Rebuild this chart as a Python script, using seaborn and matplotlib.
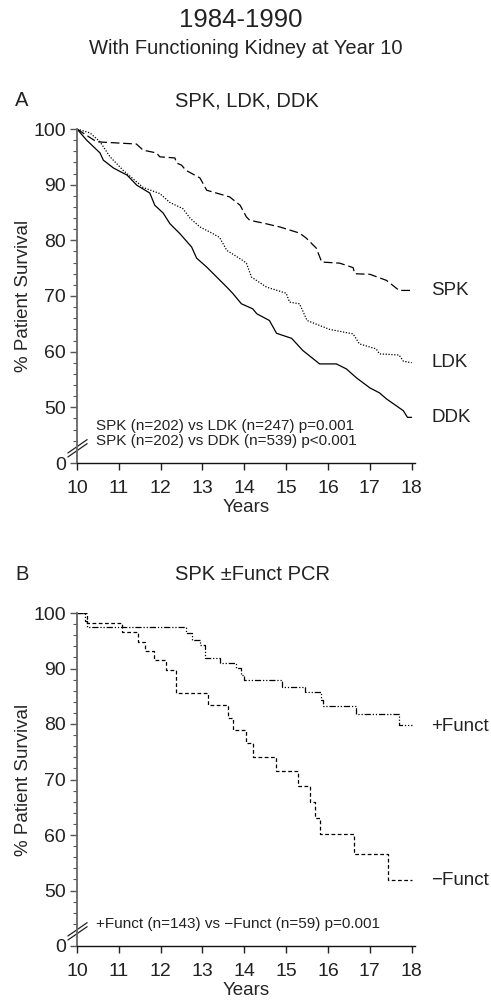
import matplotlib
matplotlib.use("Agg")
import matplotlib.pyplot as plt
import seaborn as sns
import pandas as pd

# panel A: patient survival, functioning kidney at year 10
spk_years = [10.0, 10.2, 10.47, 11.42, 11.58, 11.9, 11.98, 12.34, 12.38, 12.5, 12.6, 12.94, 13.1, 13.65, 13.9,
             14.05, 14.13, 14.45, 14.85, 15.32, 15.48, 15.72, 15.85, 16.28, 16.6, 16.64, 17.0, 17.4, 17.7, 18.0]
spk_surv = [100, 99.0, 97.7, 97.3, 96.2, 95.7, 95.0, 94.8, 93.9, 93.5, 92.6, 91.2, 89.0, 87.8, 86.3,
            84.2, 83.6, 83.1, 82.4, 81.3, 80.4, 78.6, 76.1, 75.9, 75.1, 74.0, 73.9, 72.8, 71.0, 71.0]

ldk_years = [10.0, 10.31, 10.55, 10.79, 11.1, 11.58, 11.98, 12.22, 12.53, 12.7, 12.94, 13.25, 13.41, 13.58, 13.96,
             14.05, 14.17, 14.37, 14.53, 15.0, 15.08, 15.32, 15.5, 15.8, 16.04, 16.6, 16.75, 17.15, 17.23, 17.7,
             17.8, 18.0]
ldk_surv = [100, 99.3, 97.7, 95.0, 92.6, 89.5, 88.4, 86.8, 85.7, 84.0, 82.4, 81.2, 80.5, 78.2, 76.4,
            75.9, 73.4, 72.4, 71.6, 70.5, 68.9, 68.6, 65.6, 64.7, 64.0, 63.2, 61.4, 60.5, 59.6, 59.4,
            58.3, 58.0]

ddk_years = [10.0, 10.23, 10.55, 10.63, 10.87, 11.2, 11.43, 11.74, 11.86, 12.06, 12.22, 12.46, 12.74, 12.86, 13.1,
             13.34, 13.58, 13.72, 13.93, 14.2, 14.3, 14.6, 14.77, 15.13, 15.4, 15.8, 16.2, 16.44, 16.68, 17.0,
             17.23, 17.4, 17.8, 17.9, 18.0]
ddk_surv = [100, 98.0, 95.7, 94.4, 93.0, 91.7, 89.9, 88.5, 86.3, 84.9, 83.0, 81.2, 78.8, 76.8, 75.2,
            73.4, 71.6, 70.5, 68.6, 67.7, 66.8, 65.6, 63.3, 62.4, 60.2, 57.8, 57.8, 56.9, 55.3, 53.5,
            52.6, 51.5, 49.4, 48.2, 48.2]

# panel B: SPK with / without functioning pancreas
plus_years = [10.0, 10.19, 10.24, 12.6, 12.74, 12.94, 13.06, 13.41, 13.8, 13.93, 14.0, 14.89, 15.44, 15.84, 15.87,
              16.68, 17.7, 18.0]
plus_surv = [100, 98.6, 97.5, 96.4, 95.2, 94.2, 91.9, 91.0, 90.1, 88.8, 88.0, 86.7, 85.7, 84.3, 83.3,
             81.8, 79.8, 79.8]

minus_years = [10.0, 10.24, 11.07, 11.45, 11.62, 11.84, 12.12, 12.36, 13.12, 13.62, 13.72, 14.05, 14.2, 14.76,
               15.28, 15.56, 15.7, 15.82, 16.62, 17.44, 18.0]
minus_surv = [100, 98.2, 96.5, 94.8, 93.2, 91.6, 89.7, 85.6, 83.4, 81.1, 78.9, 76.6, 74.0, 71.5,
              68.8, 66.0, 63.1, 60.2, 56.6, 51.9, 51.9]

x_ticks = [10, 11, 12, 13, 14, 15, 16, 17, 18]
y_ticks = [40, 50, 60, 70, 80, 90, 100]
y_ticklabels = ['0', '50', '60', '70', '80', '90', '100']

sns.set_theme(style='ticks')
plt.rcParams['font.family'] = ['Liberation Sans', 'DejaVu Sans']
plt.rcParams['text.color'] = '#222222'

fig = plt.figure(figsize=(4.91, 10), dpi=100)
ax_a = fig.add_axes([77 / 491, 1 - 463 / 1000, 338 / 491, 334 / 1000])
ax_b = fig.add_axes([77 / 491, 1 - 946 / 1000, 338 / 491, 333 / 1000])


def draw_curve(ax, years, surv, ls, steps=False):
    df = pd.DataFrame({'Years': years, 'surv': surv})
    kw = {'drawstyle': 'steps-post'} if steps else {}
    sns.lineplot(data=df, x='Years', y='surv', ax=ax, color='black', linewidth=0.9,
                 linestyle=ls, estimator=None, sort=False, **kw)


def style_axes(ax):
    ax.set_xlim(10, 18.08)
    ax.set_ylim(40, 100)
    ax.set_xticks(x_ticks)
    ax.set_xticklabels([str(t) for t in x_ticks])
    ax.set_yticks(y_ticks)
    ax.set_yticklabels(y_ticklabels)
    ax.set_yticks([v for v in range(44, 100, 2) if v % 10 != 0], minor=True)
    ax.tick_params(axis='both', which='major', direction='out', length=5, width=1,
                   labelsize=14, colors='#222222', pad=3)
    ax.tick_params(axis='x', which='major', pad=7)
    ax.tick_params(axis='y', which='minor', direction='out', length=3, width=0.8, colors='#555555')
    ax.tick_params(axis='y', which='major', colors='#555555', labelcolor='#222222')
    sns.despine(ax=ax)
    ax.spines['left'].set_color('#666666')
    ax.spines['left'].set_linewidth(1.3)
    ax.spines['bottom'].set_color('#111111')
    ax.spines['bottom'].set_linewidth(1.0)
    ax.set_xlabel('Years', fontsize=13.5, labelpad=2)
    ax.set_ylabel('% Patient Survival', fontsize=13.5, labelpad=1)
    # axis break marks
    for dy in (0.0, 0.012):
        ax.plot([-0.027, 0.03], [0.018 + dy, 0.058 + dy], transform=ax.transAxes,
                color='#222222', linewidth=0.9, clip_on=False)


draw_curve(ax_a, spk_years, spk_surv, (0, (7, 3)))
draw_curve(ax_a, ldk_years, ldk_surv, (0, (1, 1.3)))
draw_curve(ax_a, ddk_years, ddk_surv, '-')
style_axes(ax_a)
ax_a.text(18.47, 71.0, 'SPK', fontsize=13.5, va='center')
ax_a.text(18.47, 58.0, 'LDK', fontsize=13.5, va='center')
ax_a.text(18.47, 48.2, 'DDK', fontsize=13.5, va='center')
ax_a.text(10.45, 46.6, 'SPK (n=202) vs LDK (n=247) p=0.001', fontsize=11, va='center')
ax_a.text(10.45, 43.9, 'SPK (n=202) vs DDK (n=539) p<0.001', fontsize=11, va='center')

draw_curve(ax_b, plus_years, plus_surv, (0, (5, 1.5, 1, 1.5, 1, 1.5)), steps=True)
draw_curve(ax_b, minus_years, minus_surv, (0, (3, 2)), steps=True)
style_axes(ax_b)
ax_b.text(18.47, 79.6, '+Funct', fontsize=13.5, va='center')
ax_b.text(18.47, 51.8, '\u2212Funct', fontsize=13.5, va='center')
ax_b.text(10.45, 44.0, '+Funct (n=143) vs \u2212Funct (n=59) p=0.001', fontsize=11, va='center')

fig.text(0.491, 1 - 20 / 1000, '1984-1990', fontsize=18.5, ha='center', va='center')
fig.text(0.5, 1 - 49 / 1000, 'With Functioning Kidney at Year 10', fontsize=14.5, ha='center', va='center')
fig.text(15 / 491, 1 - 101 / 1000, 'A', fontsize=14.5, ha='left', va='center')
fig.text(247 / 491, 1 - 101 / 1000, 'SPK, LDK, DDK', fontsize=14.5, ha='center', va='center')
fig.text(15 / 491, 1 - 575 / 1000, 'B', fontsize=14.5, ha='left', va='center')
fig.text(252 / 491, 1 - 575 / 1000, 'SPK \u00b1Funct PCR', fontsize=14.5, ha='center', va='center')

plt.savefig('out.png', dpi=100)
plt.close('all')
